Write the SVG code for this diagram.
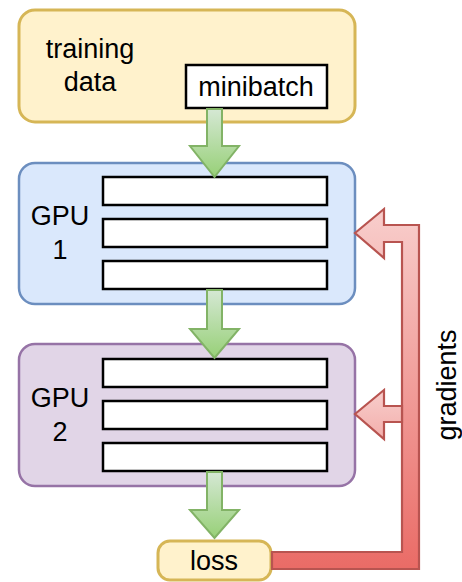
<svg xmlns="http://www.w3.org/2000/svg" width="462" height="582" viewBox="0 0 462 582">
<style>
  text { font-family: "Liberation Sans", Arial, Helvetica, sans-serif; font-size: 27px; fill: #000; }
  .mid { text-anchor: middle; }
  .yellow { fill: #fff2cc; stroke: #d6b656; stroke-width: 3; }
  .blue { fill: #dae8fc; stroke: #6c8ebf; stroke-width: 2.5; }
  .purple { fill: #e1d5e7; stroke: #9673a6; stroke-width: 2.5; }
  .slot { fill: #ffffff; stroke: #000000; stroke-width: 2.5; }
  .green { fill: url(#gGreen); stroke: #82b366; stroke-width: 2; stroke-linejoin: miter; }
  .red { fill: url(#gRed); stroke: #b85450; stroke-width: 2.2; stroke-linejoin: miter; }
  .red2 { fill: url(#gRed2); stroke: #b85450; stroke-width: 2.2; stroke-linejoin: miter; }
</style>
<defs>
  <linearGradient id="gGreen" x1="0" y1="0" x2="0" y2="1">
    <stop offset="0" stop-color="#d5e8d4"/>
    <stop offset="1" stop-color="#97d077"/>
  </linearGradient>
  <linearGradient id="gRed" gradientUnits="userSpaceOnUse" x1="0" y1="209" x2="0" y2="570">
    <stop offset="0" stop-color="#f8cecc"/>
    <stop offset="1" stop-color="#ea6b66"/>
  </linearGradient>
  <linearGradient id="gRed2" x1="0" y1="0" x2="0" y2="1">
    <stop offset="0" stop-color="#f8cecc"/>
    <stop offset="1" stop-color="#f3aeab"/>
  </linearGradient>
</defs>

<g id="training-data">
  <rect class="yellow" x="19" y="10" width="336" height="112" rx="16" ry="16"/>
  <text class="mid" x="90" y="58">training</text>
  <text class="mid" x="90" y="91">data</text>
</g>
<g id="minibatch">
  <rect class="slot" x="186" y="65" width="141" height="43"/>
  <text class="mid" x="256" y="96">minibatch</text>
</g>

<g id="gpu1">
  <rect class="blue" x="19" y="163" width="336" height="141" rx="16" ry="16"/>
  <text class="mid" x="60" y="225">GPU</text>
  <text class="mid" x="60" y="259">1</text>
  <rect class="slot" x="103" y="177" width="224" height="28"/>
  <rect class="slot" x="103" y="219" width="224" height="28"/>
  <rect class="slot" x="103" y="261" width="224" height="28"/>
</g>

<g id="gpu2">
  <rect class="purple" x="19" y="344" width="336" height="142" rx="16" ry="16"/>
  <text class="mid" x="60" y="407">GPU</text>
  <text class="mid" x="60" y="441">2</text>
  <rect class="slot" x="103" y="359" width="224" height="28"/>
  <rect class="slot" x="103" y="401" width="224" height="28"/>
  <rect class="slot" x="103" y="443" width="224" height="28"/>
</g>

<g id="loss">
  <rect class="yellow" x="158" y="541" width="113" height="39" rx="12" ry="12"/>
  <text class="mid" x="214" y="570">loss</text>
</g>

<g id="connectors">
  <path class="green" d="M207,109 L222,109 L222,146 L239,146 L214.5,177 L190,146 L207,146 Z"/>
  <path class="green" d="M207,290 L222,290 L222,329 L239,329 L214.5,358 L190,329 L207,329 Z"/>
  <path class="green" d="M207,472 L222,472 L222,510 L239,510 L214.5,538 L190,510 L207,510 Z"/>
  <path class="red" d="M355,233 L384,209 L384,225 L419,225 L419,569 L272,569 L272,552 L402,552 L402,242 L384,242 L384,258 Z"/>
  <path class="red2" d="M355,414 L384,390 L384,406 L402,406 L402,422 L384,422 L384,439 Z"/>
</g>

<g id="gradients-label">
  <text class="mid" transform="translate(456,385) rotate(-90)" x="0" y="0">gradients</text>
</g>
</svg>
